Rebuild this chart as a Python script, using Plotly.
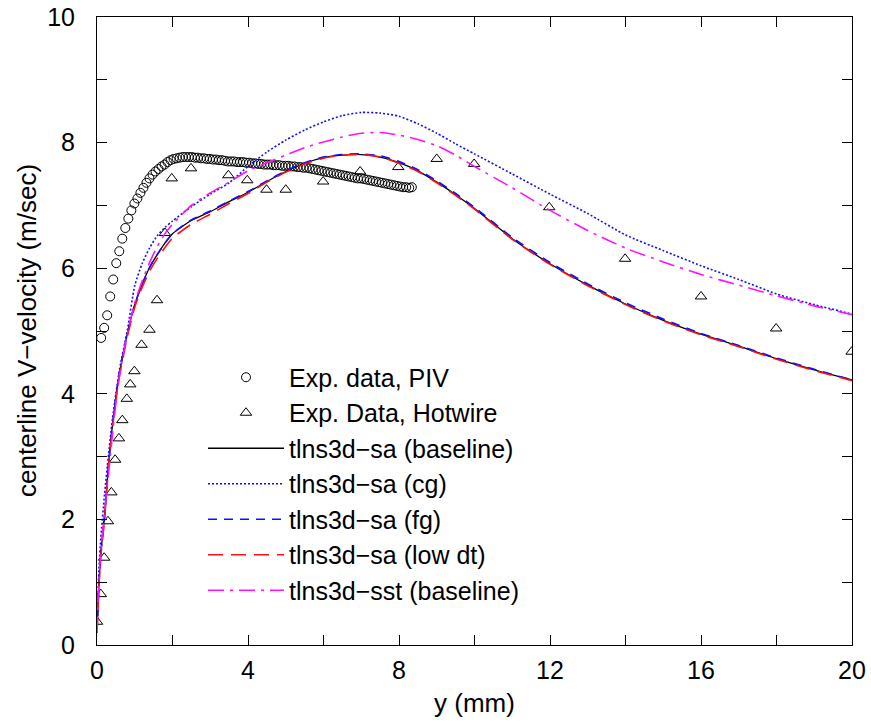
import plotly.graph_objects as go

# ---------------- data ----------------
piv_y_mm = [0.11, 0.19, 0.27, 0.35, 0.43, 0.51, 0.59, 0.67, 0.75, 0.83, 0.91, 0.99, 1.07, 1.15,
            1.23, 1.31, 1.39, 1.47, 1.55, 1.63, 1.71, 1.79, 1.87, 1.95, 2.03, 2.11, 2.19, 2.27,
            2.35, 2.43, 2.51, 2.59, 2.67, 2.75, 2.83, 2.91, 2.99, 3.07, 3.15, 3.23, 3.31, 3.39,
            3.47, 3.55, 3.63, 3.71, 3.79, 3.87, 3.95, 4.03, 4.11, 4.19, 4.27, 4.35, 4.43, 4.51,
            4.59, 4.67, 4.75, 4.83, 4.91, 4.99, 5.07, 5.15, 5.23, 5.31, 5.39, 5.47, 5.55, 5.63,
            5.71, 5.79, 5.87, 5.95, 6.03, 6.11, 6.19, 6.27, 6.35, 6.43, 6.51, 6.59, 6.67, 6.75,
            6.83, 6.91, 6.99, 7.07, 7.15, 7.23, 7.31, 7.39, 7.47, 7.55, 7.63, 7.71, 7.79, 7.87,
            7.95, 8.03, 8.11, 8.19, 8.27, 8.34]
piv_v = [4.89, 5.05, 5.25, 5.55, 5.82, 6.08, 6.27, 6.47, 6.64, 6.79, 6.92, 7.03, 7.11, 7.20,
         7.28, 7.36, 7.43, 7.49, 7.54, 7.58, 7.62, 7.65, 7.69, 7.72, 7.74, 7.75, 7.76, 7.77,
         7.77, 7.77, 7.77, 7.76, 7.76, 7.75, 7.75, 7.74, 7.74, 7.73, 7.73, 7.72, 7.72, 7.71,
         7.70, 7.70, 7.70, 7.69, 7.69, 7.69, 7.68, 7.68, 7.67, 7.67, 7.66, 7.66, 7.65, 7.65,
         7.65, 7.64, 7.64, 7.64, 7.63, 7.63, 7.63, 7.62, 7.62, 7.61, 7.61, 7.60, 7.60, 7.59,
         7.58, 7.57, 7.56, 7.55, 7.54, 7.53, 7.52, 7.51, 7.50, 7.49, 7.48, 7.47, 7.46, 7.45,
         7.44, 7.43, 7.43, 7.42, 7.41, 7.40, 7.39, 7.38, 7.37, 7.36, 7.35, 7.34, 7.33, 7.32,
         7.31, 7.30, 7.29, 7.29, 7.28, 7.29]

hw_y_mm = [0.0, 0.10, 0.19, 0.29, 0.38, 0.48, 0.58, 0.67, 0.79, 0.88, 0.99, 1.18, 1.39, 1.59,
           1.80, 1.98, 2.49, 3.48, 3.98, 4.49, 5.0, 5.99, 6.97, 7.98, 9.0, 9.99, 11.98, 13.99,
           16.0, 17.99, 19.99]
hw_v = [0.37, 0.81, 1.39, 1.97, 2.43, 2.95, 3.29, 3.58, 3.92, 4.15, 4.36, 4.78, 5.02, 5.49,
        6.56, 7.43, 7.59, 7.48, 7.40, 7.25, 7.25, 7.38, 7.54, 7.61, 7.74, 7.66, 6.97, 6.15,
        5.55, 5.04, 4.67]

cfd_y_mm = [0.0, 0.05, 0.1, 0.2, 0.3, 0.4, 0.5, 0.6, 0.8, 1.0, 1.2, 1.4, 1.6, 1.8, 2.0, 2.5,
            3.0, 3.5, 4.0, 4.5, 5.0, 5.5, 6.0, 6.5, 7.0, 7.5, 8.0, 8.5, 9.0, 9.5, 10.0, 11.0,
            12.0, 13.0, 14.0, 15.0, 16.0, 17.0, 18.0, 19.0, 20.0]
sa_baseline = [0.20, 0.95, 1.45, 2.05, 2.85, 3.45, 3.95, 4.35, 4.95, 5.42, 5.75, 6.02, 6.22,
               6.40, 6.55, 6.76, 6.90, 7.06, 7.21, 7.38, 7.54, 7.67, 7.76, 7.80, 7.81, 7.77,
               7.68, 7.55, 7.37, 7.17, 6.95, 6.47, 6.07, 5.73, 5.43, 5.17, 4.95, 4.76, 4.56,
               4.38, 4.22]
sa_cg = [0.20, 1.20, 1.70, 2.40, 3.00, 3.55, 4.00, 4.40, 5.00, 5.72, 6.08, 6.33, 6.52,
         6.65, 6.75, 6.98, 7.18, 7.36, 7.62, 7.85, 8.04, 8.20, 8.33, 8.43, 8.48, 8.47,
         8.42, 8.30, 8.15, 7.98, 7.82, 7.50, 7.18, 6.87, 6.53, 6.28, 6.04, 5.82, 5.59,
         5.42, 5.27]
sa_fg = [0.20, 0.95, 1.45, 2.05, 2.85, 3.45, 3.95, 4.35, 4.95, 5.42, 5.75, 6.02, 6.22,
         6.40, 6.55, 6.77, 6.91, 7.07, 7.22, 7.39, 7.55, 7.68, 7.77, 7.81, 7.82, 7.79,
         7.70, 7.57, 7.39, 7.19, 6.97, 6.49, 6.09, 5.75, 5.45, 5.19, 4.96, 4.77, 4.57,
         4.39, 4.22]
sa_lowdt = [0.20, 0.90, 1.40, 2.00, 2.80, 3.40, 3.90, 4.30, 4.90, 5.38, 5.70, 5.96, 6.16,
            6.33, 6.48, 6.70, 6.86, 7.03, 7.19, 7.37, 7.53, 7.66, 7.75, 7.80, 7.81, 7.77,
            7.67, 7.54, 7.36, 7.16, 6.94, 6.46, 6.06, 5.72, 5.42, 5.16, 4.94, 4.75, 4.55,
            4.37, 4.21]
sst_baseline = [0.20, 1.00, 1.50, 2.10, 2.70, 3.30, 3.85, 4.30, 4.95, 5.45, 5.80, 6.10,
                6.35, 6.55, 6.70, 7.00, 7.20, 7.37, 7.55, 7.68, 7.80, 7.92, 8.01, 8.09,
                8.15, 8.16, 8.12, 8.05, 7.95, 7.80, 7.62, 7.28, 6.92, 6.60, 6.32, 6.10,
                5.90, 5.73, 5.56, 5.40, 5.26]

x_tick_vals = [0, 4, 8, 12, 16, 20]
y_tick_vals = [0, 2, 4, 6, 8, 10]
x_title = "y (mm)"
y_title = "centerline V−velocity (m/sec)"

FONT = "Liberation Sans, Arial, Helvetica, sans-serif"

fig = go.Figure()
fig.add_trace(go.Scatter(x=piv_y_mm, y=piv_v, mode="markers", name="Exp. data, PIV",
                         marker=dict(symbol="circle-open", size=9, color="black",
                                     line=dict(width=1, color="black"))))
fig.add_trace(go.Scatter(x=hw_y_mm, y=hw_v, mode="markers", name="Exp. Data, Hotwire",
                         marker=dict(symbol="triangle-up-open", size=10, color="black",
                                     line=dict(width=1, color="black"))))
fig.add_trace(go.Scatter(x=cfd_y_mm, y=sa_baseline, mode="lines", name="tlns3d−sa (baseline)",
                         line=dict(color="black", width=1.3, shape="spline", smoothing=0.6)))
fig.add_trace(go.Scatter(x=cfd_y_mm, y=sa_cg, mode="lines", name="tlns3d−sa (cg)",
                         line=dict(color="#1010ff", width=1.6, dash="2px,2px", shape="spline", smoothing=0.6)))
fig.add_trace(go.Scatter(x=cfd_y_mm, y=sa_fg, mode="lines", name="tlns3d−sa (fg)",
                         line=dict(color="#1010ff", width=1.6, dash="9px,7px", shape="spline", smoothing=0.6)))
fig.add_trace(go.Scatter(x=cfd_y_mm, y=sa_lowdt, mode="lines", name="tlns3d−sa (low dt)",
                         line=dict(color="#ff1010", width=1.6, dash="15px,8px", shape="spline", smoothing=0.6)))
fig.add_trace(go.Scatter(x=cfd_y_mm, y=sst_baseline, mode="lines", name="tlns3d−sst (baseline)",
                         line=dict(color="#ff10ff", width=1.6, dash="16px,6px,3px,6px", shape="spline", smoothing=0.6)))

axis_common = dict(showline=True, linecolor="black", linewidth=1, mirror="ticks",
                   ticks="inside", ticklen=10, tickwidth=1, tickcolor="black",
                   showgrid=False, zeroline=False, automargin=False,
                   tickfont=dict(family=FONT, size=25, color="black"))

fig.update_xaxes(range=[0, 20], tickvals=x_tick_vals, ticktext=[str(v) for v in x_tick_vals],
                 minor=dict(dtick=2, tick0=0, ticks="inside", ticklen=10, tickcolor="black", showgrid=False),
                 ticklabelstandoff=3, **axis_common)
fig.update_yaxes(range=[0, 10], tickvals=y_tick_vals, ticktext=[str(v) for v in y_tick_vals],
                 minor=dict(dtick=1, tick0=0, ticks="inside", ticklen=10, tickcolor="black", showgrid=False),
                 ticklabelstandoff=16, **axis_common)

fig.add_annotation(text=x_title, xref="paper", yref="paper", x=0.5, y=-0.0924,
                   xanchor="center", yanchor="middle", showarrow=False,
                   font=dict(family=FONT, size=26, color="black"))
fig.add_annotation(text=y_title, xref="paper", yref="paper", x=-0.0927, y=0.5,
                   xanchor="center", yanchor="middle", showarrow=False, textangle=-90,
                   font=dict(family=FONT, size=26, color="black"))

fig.update_layout(
    width=871, height=725,
    margin=dict(l=97, r=19, t=17, b=80),
    paper_bgcolor="white", plot_bgcolor="white",
    font=dict(family=FONT, color="black"),
    showlegend=True,
    legend=dict(x=0.1404, y=0.4626, xanchor="left", yanchor="top",
                bgcolor="rgba(0,0,0,0)", borderwidth=0,
                font=dict(family=FONT, size=25, color="black"),
                itemwidth=76, tracegroupgap=0),
)

fig.write_html(
    "out.html",
    config={"displayModeBar": False},
    post_script="document.body.style.margin='0';document.body.style.overflow='hidden';"
                "document.documentElement.style.overflow='hidden';",
)
